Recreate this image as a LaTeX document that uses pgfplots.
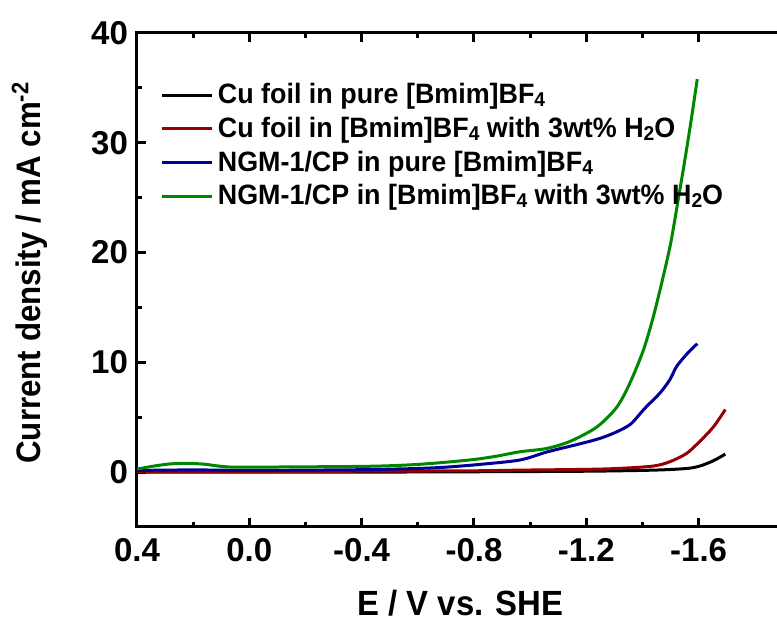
\documentclass[border=0pt]{standalone}
\usepackage{pgfplots}
\pgfplotsset{compat=1.18}
\usepackage{fontspec}
\setmainfont{Liberation Sans}
\newfontfamily\labelfont{Liberation Sans}[FakeStretch=0.94]
\newfontfamily\ylabfont{Liberation Sans}[FakeStretch=0.92]
\newfontfamily\legfont{Liberation Sans}[FakeStretch=0.96]

\definecolor{cured}{RGB}{150,0,0}
\definecolor{ngblue}{RGB}{0,0,150}
\definecolor{nggreen}{RGB}{0,135,0}

% small subscript, lowered a little, as in the original legend
\newcommand{\sub}[1]{\raisebox{-0.2ex}{\fontsize{10}{10}\selectfont #1}}

\begin{document}
\begin{tikzpicture}
\begin{axis}[
    name=ax,
    scale only axis,
    width=337pt, height=247pt,
    x dir=reverse,
    xmin=-2.0, xmax=0.4,
    ymin=-5, ymax=40,
    xtick={0.4,0,-0.4,-0.8,-1.2,-1.6},
    xticklabels={0.4,0.0,-0.4,-0.8,-1.2,-1.6},
    ytick={0,10,20,30,40},
    yticklabels={0,10,20,30,40},
    minor x tick num=1,
    minor y tick num=1,
    tick align=inside,
    major tick length=4.5pt,
    minor tick length=2.5pt,
    every tick/.style={black, line width=1.5pt},
    axis line style={line width=1.5pt},
    tick label style={font=\bfseries\fontsize{16.5}{18}\selectfont},
    xticklabel style={yshift=-2pt},
    yticklabel style={xshift=-1pt},
    xlabel={E / V vs. SHE},
    ylabel={Current density / mA cm\textsuperscript{-2}},
    xlabel style={font=\labelfont\bfseries\fontsize{17.5}{20}\selectfont,
        at={(axis description cs:0.48,0)}, anchor=north, yshift=-28pt},
    ylabel style={font=\ylabfont\bfseries\fontsize{17}{20}\selectfont,
        at={(axis description cs:0,0.515)}, anchor=south, yshift=41pt},
    legend cell align=left,
    legend style={draw=none, fill=none, at={(0.026,0.915)}, anchor=north west,
        font=\legfont\bfseries\fontsize{14}{16}\selectfont, row sep=1.2pt},
    legend image code/.code={\draw[#1, line width=1.5pt] (0pt,0pt) -- (25pt,0pt);},
    every axis plot/.append style={line width=1.5pt, line join=round},
]
\addplot[black, smooth] coordinates {
    (0.4,0.0) (0.2,0.0) (0.0,0.0) (-0.4,0.0) (-0.8,0.03) (-1.2,0.08)
    (-1.44,0.18) (-1.557,0.33) (-1.604,0.55) (-1.652,1.03) (-1.695,1.64)
};
\addlegendentry{Cu foil in pure [Bmim]BF\sub{4}}
\addplot[cured, smooth] coordinates {
    (0.4,0.05) (0.2,0.05) (0.0,0.05) (-0.4,0.08) (-0.8,0.12) (-0.963,0.18)
    (-1.2,0.25) (-1.32,0.34) (-1.438,0.55) (-1.497,0.94) (-1.557,1.7)
    (-1.604,2.8) (-1.652,4.1) (-1.695,5.7)
};
\addlegendentry{Cu foil in [Bmim]BF\sub{4} with 3wt\% H\sub{2}O}
\addplot[ngblue, smooth] coordinates {
    (0.4,0.15) (0.2,0.2) (0.0,0.15) (-0.2,0.18) (-0.4,0.22) (-0.5,0.27)
    (-0.6,0.33) (-0.7,0.45) (-0.82,0.7) (-0.963,1.1) (-1.062,1.85)
    (-1.181,2.6) (-1.252,3.1) (-1.311,3.7) (-1.359,4.4) (-1.408,5.8)
    (-1.462,7.2) (-1.497,8.4) (-1.521,9.6) (-1.556,10.7) (-1.595,11.7)
};
\addlegendentry{NGM-1/CP in pure [Bmim]BF\sub{4}}
\addplot[nggreen, smooth] coordinates {
    (0.4,0.27) (0.34,0.55) (0.28,0.75) (0.22,0.8) (0.16,0.72) (0.11,0.55)
    (0.06,0.45) (0.0,0.45) (-0.2,0.48) (-0.4,0.52) (-0.5,0.58) (-0.6,0.7)
    (-0.7,0.9) (-0.8,1.15) (-0.88,1.45) (-0.963,1.85) (-1.058,2.15)
    (-1.142,2.8) (-1.237,4.1) (-1.308,5.9) (-1.355,8.1) (-1.403,11.1)
    (-1.438,14.1) (-1.47,17.4) (-1.50,20.8) (-1.525,24.5) (-1.55,28.3)
    (-1.573,32.0) (-1.595,35.8)
};
\addlegendentry{NGM-1/CP in [Bmim]BF\sub{4} with 3wt\% H\sub{2}O}
\end{axis}
\pgfresetboundingbox
\path[use as bounding box] ([shift={(-68.5pt,-48.5pt)}]ax.south west)
    rectangle ([shift={(320pt,16.5pt)}]ax.south west |- ax.north west);
\end{tikzpicture}
\end{document}
